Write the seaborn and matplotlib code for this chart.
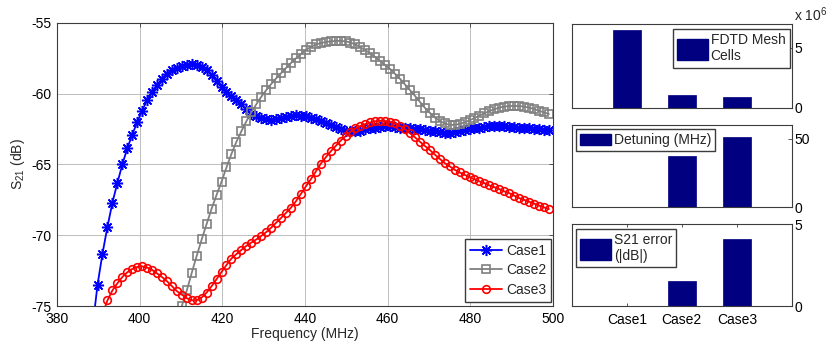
import numpy as np
import pandas as pd
import matplotlib
matplotlib.use('Agg')
import matplotlib.pyplot as plt
from matplotlib.patches import Patch
from matplotlib.ticker import FuncFormatter
import seaborn as sns

# Frequenzraster (MHz), 1.2 MHz Schritt
freq = [388.6, 389.8, 391.0, 392.2, 393.4, 394.6, 395.8, 397.0, 398.2, 399.4,
        400.6, 401.8, 403.0, 404.2, 405.4, 406.6, 407.8, 409.0, 410.2, 411.4,
        412.6, 413.8, 415.0, 416.2, 417.4, 418.6, 419.8, 421.0, 422.2, 423.4,
        424.6, 425.8, 427.0, 428.2, 429.4, 430.6, 431.8, 433.0, 434.2, 435.4,
        436.6, 437.8, 439.0, 440.2, 441.4, 442.6, 443.8, 445.0, 446.2, 447.4,
        448.6, 449.8, 451.0, 452.2, 453.4, 454.6, 455.8, 457.0, 458.2, 459.4,
        460.6, 461.8, 463.0, 464.2, 465.4, 466.6, 467.8, 469.0, 470.2, 471.4,
        472.6, 473.8, 475.0, 476.2, 477.4, 478.6, 479.8, 481.0, 482.2, 483.4,
        484.6, 485.8, 487.0, 488.2, 489.4, 490.6, 491.8, 493.0, 494.2, 495.4,
        496.6, 497.8, 499.0]

# S21 in dB
s21_case1 = [-76.5, -73.5, -71.3, -69.4, -67.7, -66.3, -65.0, -63.85, -62.9, -62.0,
             -61.2, -60.45, -59.9, -59.4, -58.95, -58.6, -58.3, -58.15, -58.05, -57.95,
             -57.9, -57.95, -58.1, -58.35, -58.7, -59.1, -59.5, -59.85, -60.15, -60.45,
             -60.75, -61.1, -61.4, -61.6, -61.75, -61.8, -61.85, -61.8, -61.75, -61.65,
             -61.55, -61.5, -61.55, -61.6, -61.7, -61.8, -61.9, -62.05, -62.2, -62.35,
             -62.5, -62.6, -62.65, -62.65, -62.6, -62.5, -62.45, -62.4, -62.35, -62.3,
             -62.3, -62.35, -62.4, -62.45, -62.45, -62.5, -62.5, -62.55, -62.6, -62.65,
             -62.7, -62.75, -62.75, -62.7, -62.65, -62.55, -62.5, -62.45, -62.4, -62.35,
             -62.3, -62.3, -62.3, -62.3, -62.35, -62.35, -62.4, -62.45, -62.45, -62.5,
             -62.5, -62.55, -62.55]

s21_case2 = [-75.0, -73.9, -72.65, -71.45, -70.3, -69.2, -68.12, -67.15, -66.22, -65.2,
             -64.25, -63.4, -62.65, -61.95, -61.32, -60.75, -60.22, -59.75, -59.32, -58.92,
             -58.55, -58.18, -57.83, -57.5, -57.2, -56.9, -56.7, -56.52, -56.42, -56.35,
             -56.3, -56.27, -56.26, -56.3, -56.38, -56.52, -56.72, -56.92, -57.15, -57.42,
             -57.7, -57.98, -58.25, -58.6, -58.95, -59.35, -59.75, -60.15, -60.58, -61.0,
             -61.35, -61.68, -61.92, -62.1, -62.2, -62.2, -62.13, -62.02, -61.88, -61.72,
             -61.55, -61.38, -61.22, -61.1, -60.98, -60.91, -60.87, -60.86, -60.87, -60.91,
             -60.98, -61.08, -61.2, -61.32, -61.43]

s21_case3 = [-75.6, -74.6, -73.9, -73.4, -72.95, -72.62, -72.38, -72.24, -72.2, -72.28,
             -72.45, -72.7, -72.95, -73.25, -73.6, -73.95, -74.2, -74.45, -74.6, -74.6,
             -74.4, -74.05, -73.6, -73.1, -72.6, -72.1, -71.65, -71.33, -71.04, -70.75,
             -70.52, -70.3, -70.05, -69.78, -69.47, -69.12, -68.78, -68.42, -68.05, -67.6,
             -67.08, -66.55, -66.05, -65.5, -64.95, -64.5, -64.08, -63.7, -63.32, -63.0,
             -62.68, -62.45, -62.28, -62.14, -62.03, -61.95, -61.91, -61.93, -62.0, -62.1,
             -62.28, -62.51, -62.8, -63.08, -63.39, -63.69, -63.98, -64.3, -64.6, -64.9,
             -65.13, -65.37, -65.56, -65.73, -65.89, -66.04, -66.2, -66.32, -66.48, -66.6,
             -66.74, -66.9, -67.02, -67.2, -67.37, -67.5, -67.63, -67.76, -67.9, -68.03,
             -68.15]

# Balkendiagramme
cases = ['Case1', 'Case2', 'Case3']
mesh_cells = [6.53e6, 1.09e6, 0.90e6]
detuning = [0.0, 37.2, 50.9]
s21_error = [0.0, 1.54, 4.07]

navy = '#000080'
axcol = '#3c3c3c'

sns.set_theme(style='white')
plt.rcParams['font.family'] = ['Liberation Sans', 'DejaVu Sans']
plt.rcParams['axes.unicode_minus'] = False
plt.rcParams['mathtext.fontset'] = 'custom'
plt.rcParams['mathtext.rm'] = 'Liberation Sans'
plt.rcParams['mathtext.it'] = 'Liberation Sans:italic'

fig = plt.figure(figsize=(8.3, 3.46), dpi=100)

# %% Hauptdiagramm S21
ax = fig.add_axes([0.0687, 0.1156, 0.5976, 0.818])
sns.lineplot(x=freq, y=s21_case1, ax=ax, color='#0000ff', lw=1.3,
             marker=(8, 2, 0), markersize=8, markeredgecolor='#0000ff',
             markeredgewidth=1.1, label='Case1')
sns.lineplot(x=freq[18:], y=s21_case2, ax=ax, color='#808080', lw=1.3,
             marker='s', markersize=5.5, markerfacecolor='none',
             markeredgecolor='#808080', markeredgewidth=1.2, label='Case2')
sns.lineplot(x=freq[2:], y=s21_case3, ax=ax, color='#ff0000', lw=1.3,
             marker='o', markersize=5.5, markerfacecolor='none',
             markeredgecolor='#ff0000', markeredgewidth=1.2, label='Case3')

ax.set_xlim(380, 500)
ax.set_ylim(-75, -55)
ax.set_xticks([380, 400, 420, 440, 460, 480, 500])
ax.set_yticks([-75, -70, -65, -60, -55])
ax.grid(True, color='#bcbcbc', lw=0.7)
ax.tick_params(direction='in', top=True, right=True, length=3, width=0.6,
               color=axcol, labelsize=10, labelcolor='black', pad=4)
for sp in ax.spines.values():
    sp.set_color(axcol)
    sp.set_linewidth(0.8)
ax.set_xlabel('Frequency (MHz)', fontsize=10, labelpad=1)
ax.set_ylabel('S$_{21}$ (dB)', fontsize=10, labelpad=3)
ax.legend(loc='lower right', bbox_to_anchor=(0.996, 0.014), borderaxespad=0,
          fancybox=False, edgecolor=axcol, framealpha=1, fontsize=10,
          handlelength=2.3, handletextpad=0.3, labelspacing=0.42, borderpad=0.35)

# %% Balken
bar_axes = [
    fig.add_axes([0.689, 0.6879, 0.265, 0.2428]),
    fig.add_axes([0.689, 0.4017, 0.265, 0.237]),
    fig.add_axes([0.689, 0.1156, 0.265, 0.237]),
]
bar_data = [mesh_cells, detuning, s21_error]
bar_labels = ['FDTD Mesh\nCells', 'Detuning (MHz)', 'S21 error\n(|dB|)']
bar_ylim = [7e6, 60, 5]
bar_ticks = [[0, 5e6], [0, 50], [0, 5]]
leg_pos = [('upper right', (0.99, 0.94)), ('upper left', (0.02, 0.95)),
           ('upper left', (0.02, 0.94))]
handle_h = [2.0, 0.95, 2.0]

for i, bax in enumerate(bar_axes):
    df = pd.DataFrame({'case': cases, 'val': bar_data[i]})
    sns.barplot(data=df, x='case', y='val', ax=bax, color=navy, saturation=1,
                width=0.5, edgecolor=navy, linewidth=0.5)
    bax.set_xlim(-1, 3)
    bax.set_ylim(0, bar_ylim[i])
    bax.set_yticks(bar_ticks[i])
    bax.yaxis.tick_right()
    bax.set_xlabel('')
    bax.set_ylabel('')
    bax.tick_params(axis='y', direction='in', left=False, right=True, length=3,
                    width=0.6, color=axcol, labelsize=10, labelcolor='black', pad=2)
    if i < 2:
        bax.set_xticks([])
    else:
        bax.tick_params(axis='x', direction='in', top=True, bottom=True, length=2,
                        width=0.6, color=axcol, labelsize=10, labelcolor='black', pad=5)
    for sp in bax.spines.values():
        sp.set_color(axcol)
        sp.set_linewidth(0.8)
    loc, anchor = leg_pos[i]
    bax.legend(handles=[Patch(facecolor=navy, edgecolor=navy)], labels=[bar_labels[i]],
               loc=loc, bbox_to_anchor=anchor, borderaxespad=0, fancybox=False,
               edgecolor=axcol, framealpha=1, fontsize=10, handlelength=2.2,
               handleheight=handle_h[i], handletextpad=0.2, borderpad=0.3)

bar_axes[0].yaxis.set_major_formatter(FuncFormatter(lambda v, p: f'{v / 1e6:g}'))
fig.text(794 / 830, 1 - 15 / 346, 'x 10$^{6}$', fontsize=10, ha='left', va='center')

fig.savefig('out.png', dpi=100)
